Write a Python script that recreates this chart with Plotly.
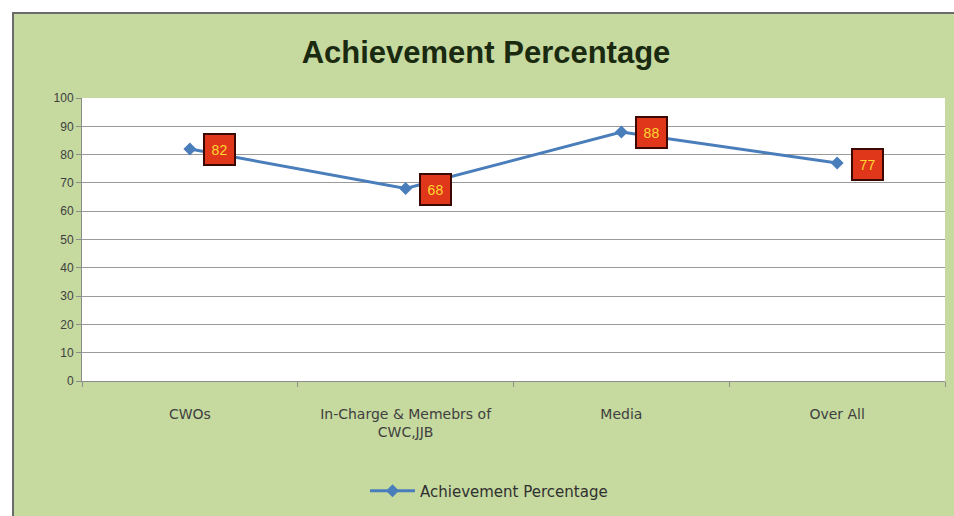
import plotly.graph_objects as go

categories = ["CWOs", "In-Charge & Memebrs of<br>CWC,JJB", "Media", "Over All"]
values = [82, 68, 88, 77]
label_text = ["82", "68", "88", "77"]
y_ticks = [0, 10, 20, 30, 40, 50, 60, 70, 80, 90, 100]
series_name = "Achievement Percentage"
title_text = "Achievement Percentage"

W, H = 954, 516
L, T = 82, 98
R = W - 945
B = H - 381
pw, ph = W - L - R, H - T - B

def px_x(p):
    return (p - L) / pw

def px_y(p):
    return (H - B - p) / ph

fig = go.Figure()
fig.add_trace(go.Scatter(
    x=categories, y=values, mode="lines+markers", name=series_name,
    line=dict(color="#4a7ebb", width=3),
    marker=dict(symbol="diamond", size=10, color="#4a7ebb"),
    showlegend=True,
))

annotations = []
for c, v, t in zip(categories, values, label_text):
    annotations.append(dict(
        x=c, y=v, xref="x", yref="y", text=t, showarrow=False,
        xshift=30, yshift=-1,
        font=dict(family="Liberation Sans, Arial", size=14, color="#ffd830"),
        bgcolor="#e0361a", bordercolor="#3a0800", borderwidth=2,
        width=29, height=29, borderpad=0,
    ))
fig.update_layout(annotations=annotations)

fig.update_layout(
    width=W, height=H,
    margin=dict(l=L, r=R, t=T, b=B),
    paper_bgcolor="#c6d99f",
    plot_bgcolor="#ffffff",
    title=dict(text="<b>" + title_text + "</b>", x=486 / W, xanchor="center",
               y=1 - 52 / H, yanchor="middle",
               font=dict(family="Liberation Sans, Arial, sans-serif", size=31, color="#1a2a10")),
    font=dict(family="Liberation Sans, Arial, sans-serif", size=12, color="#404040"),
    xaxis=dict(
        showgrid=False, showline=True, linecolor="#8c8c8c", linewidth=1,
        ticks="outside", ticklen=5, tickcolor="#8c8c8c", tickson="boundaries",
        tickfont=dict(family="DejaVu Sans, sans-serif", size=14, color="#404040"),
        ticklabelstandoff=20,
        range=[-0.5, 3.5],
    ),
    yaxis=dict(
        range=[0, 100], tickvals=y_ticks, showgrid=True, gridcolor="#9a9a9a", gridwidth=1,
        showline=True, linecolor="#8c8c8c", linewidth=1,
        ticks="outside", ticklen=5, tickcolor="#8c8c8c",
        tickfont=dict(size=12, color="#404040"), zeroline=False,
    ),
    legend=dict(orientation="h", x=px_x(489), xanchor="center", y=px_y(491), yanchor="middle",
                bgcolor="rgba(0,0,0,0)", itemwidth=45,
                font=dict(family="DejaVu Sans, sans-serif", size=15, color="#303030")),
    shapes=[
        dict(type="rect", xref="paper", yref="paper", layer="below",
             x0=px_x(-5), x1=px_x(12), y0=px_y(H + 40), y1=px_y(-5),
             fillcolor="#ffffff", line=dict(width=0)),
        dict(type="rect", xref="paper", yref="paper", layer="below",
             x0=px_x(-5), x1=px_x(W + 40), y0=px_y(12), y1=px_y(-5),
             fillcolor="#ffffff", line=dict(width=0)),
        dict(type="line", xref="paper", yref="paper", layer="above",
             x0=px_x(12), x1=px_x(W + 40), y0=px_y(13), y1=px_y(13),
             line=dict(color="#6b6b6b", width=2)),
        dict(type="line", xref="paper", yref="paper", layer="above",
             x0=px_x(13), x1=px_x(13), y0=px_y(12), y1=px_y(H + 40),
             line=dict(color="#6b6b6b", width=2)),
    ],
)

fig.write_html(
    "out.html",
    config={"displayModeBar": False},
    post_script="document.body.style.margin='0';document.documentElement.style.overflow='hidden';",
)
